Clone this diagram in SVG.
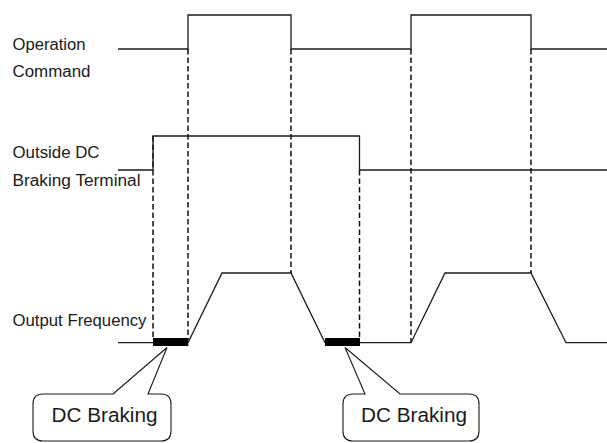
<svg xmlns="http://www.w3.org/2000/svg" width="607" height="443" viewBox="0 0 607 443">
<style>
.sig{fill:none;stroke:#1a1a1a;stroke-width:1.3;stroke-linejoin:miter}
.dash{fill:none;stroke:#111;stroke-width:1.5;stroke-dasharray:5.5,3}
.bar{fill:#000}
.lbl{font-family:"Liberation Sans",Arial,sans-serif;font-size:16px;fill:#1a1a1a}
.cl{fill:#fff;stroke:#1a1a1a;stroke-width:1.1}
.ct{font-family:"Liberation Sans",Arial,sans-serif;font-size:20.5px;fill:#1a1a1a}
</style>
<rect width="607" height="443" fill="#fff"/>
<g id="labels">
<text class="lbl" x="12.5" y="50" textLength="73" lengthAdjust="spacingAndGlyphs">Operation</text>
<text class="lbl" x="12.5" y="77" textLength="78" lengthAdjust="spacingAndGlyphs">Command</text>
<text class="lbl" x="12.5" y="158" textLength="87" lengthAdjust="spacingAndGlyphs">Outside DC</text>
<text class="lbl" x="12.5" y="186" textLength="128" lengthAdjust="spacingAndGlyphs">Braking Terminal</text>
<text class="lbl" x="12.5" y="326" textLength="134" lengthAdjust="spacingAndGlyphs">Output Frequency</text>
</g>
<g id="connectors">
<line class="dash" x1="153" y1="136" x2="153" y2="340"/>
<line class="dash" x1="188" y1="49" x2="188" y2="340"/>
<line class="dash" x1="291" y1="49" x2="291" y2="273"/>
<line class="dash" x1="359.5" y1="170" x2="359.5" y2="340"/>
<line class="dash" x1="411" y1="49" x2="411" y2="343"/>
<line class="dash" x1="531" y1="49" x2="531" y2="273"/>
</g>
<g id="operation-command">
<path class="sig" d="M118,49 H188 V15 H291 V49 H411 V15 H531 V49 H607"/>
</g>
<g id="outside-dc">
<path class="sig" d="M118,170 H153 V136 H359.5 V170 H607"/>
</g>
<g id="output-frequency">
<path class="sig" d="M118,342.7 H153 M188,342.7 L222,273 H291 L325,342.7 M359.5,342.7 H411 L445,273 H531 L566,342.7 H607"/>
<rect class="bar" x="153" y="338" width="35.3" height="8"/>
<rect class="bar" x="325" y="338" width="35" height="8"/>
</g>
<g id="callout-1">
<path class="cl" d="M113,394 L167,347.5 L148,394 H161 Q171,394 171,404 V431 Q171,441 161,441 H43 Q33,441 33,431 V404 Q33,394 43,394 Z"/>
<text class="ct" x="51.5" y="422" textLength="106" lengthAdjust="spacingAndGlyphs">DC Braking</text>
</g>
<g id="callout-2">
<path class="cl" d="M365,394 L345,347.5 L400,394 H469 Q479,394 479,404 V431 Q479,441 469,441 H353 Q343,441 343,431 V404 Q343,394 353,394 Z"/>
<text class="ct" x="361" y="422" textLength="106" lengthAdjust="spacingAndGlyphs">DC Braking</text>
</g>
</svg>
